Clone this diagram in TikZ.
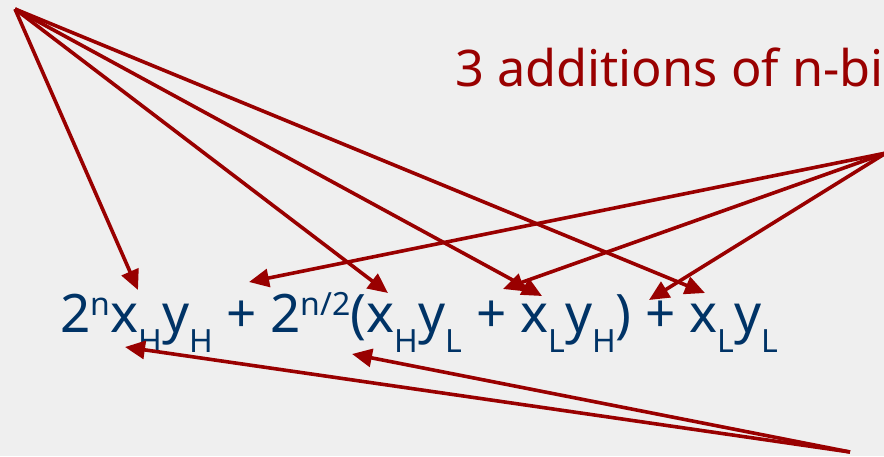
\documentclass[tikz,border=0pt]{standalone}
\usepackage{fontspec}
\setmainfont{Noto Sans}
\usetikzlibrary{arrows.meta}
\definecolor{bgc}{HTML}{EFEFEF}
\definecolor{redc}{HTML}{990000}
\definecolor{bluec}{HTML}{003366}
\newcommand\mysup[1]{\raisebox{17pt}{\fontsize{32}{36}\selectfont #1}}
\newcommand\mysub[1]{\raisebox{-20pt}{\fontsize{32}{36}\selectfont #1}}
\tikzset{
  pointer/.style={draw=redc, line width=3.6pt, -{Triangle[length=20pt,width=18pt]}},
  big/.style={inner sep=0pt, font=\fontsize{53}{60}\selectfont},
  headline/.style={inner sep=0pt, font=\fontsize{50.5}{60}\selectfont}
}
\begin{document}
\begin{tikzpicture}[x=1pt,y=-1pt]
\fill[bgc] (0,0) rectangle (884,456);
\clip (0,0) rectangle (884,456);
\useasboundingbox (0,0) rectangle (884,456);
\node[headline, text=redc, anchor=base west] (title) at (455,86) {3 additions of n-bi};
\node[big, text=bluec, anchor=base west] (formula) at (60,332)
  {2\mysup{n}x\mysub{H}y\mysub{H} + 2\mysup{n/2}(x\mysub{H}y\mysub{L} + x\mysub{L}y\mysub{H}) + x\mysub{L}y\mysub{L}};
\coordinate (A) at (15,9);
\coordinate (B) at (886,153);
\coordinate (C) at (850,452);
\coordinate (a1) at (138,290);
\coordinate (a2) at (388,293);
\coordinate (a3) at (542,296);
\coordinate (a4) at (705,293);
\coordinate (b1) at (249,282);
\coordinate (b2) at (503,289);
\coordinate (b3) at (649,300);
\coordinate (c1) at (125,347);
\coordinate (c2) at (352,354);
\foreach \t in {a1,a2,a3,a4} \draw[pointer] (A) -- (\t);
\foreach \t in {b1,b2,b3} \draw[pointer] (B) -- (\t);
\foreach \t in {c1,c2} \draw[pointer] (C) -- (\t);
\end{tikzpicture}
\end{document}
